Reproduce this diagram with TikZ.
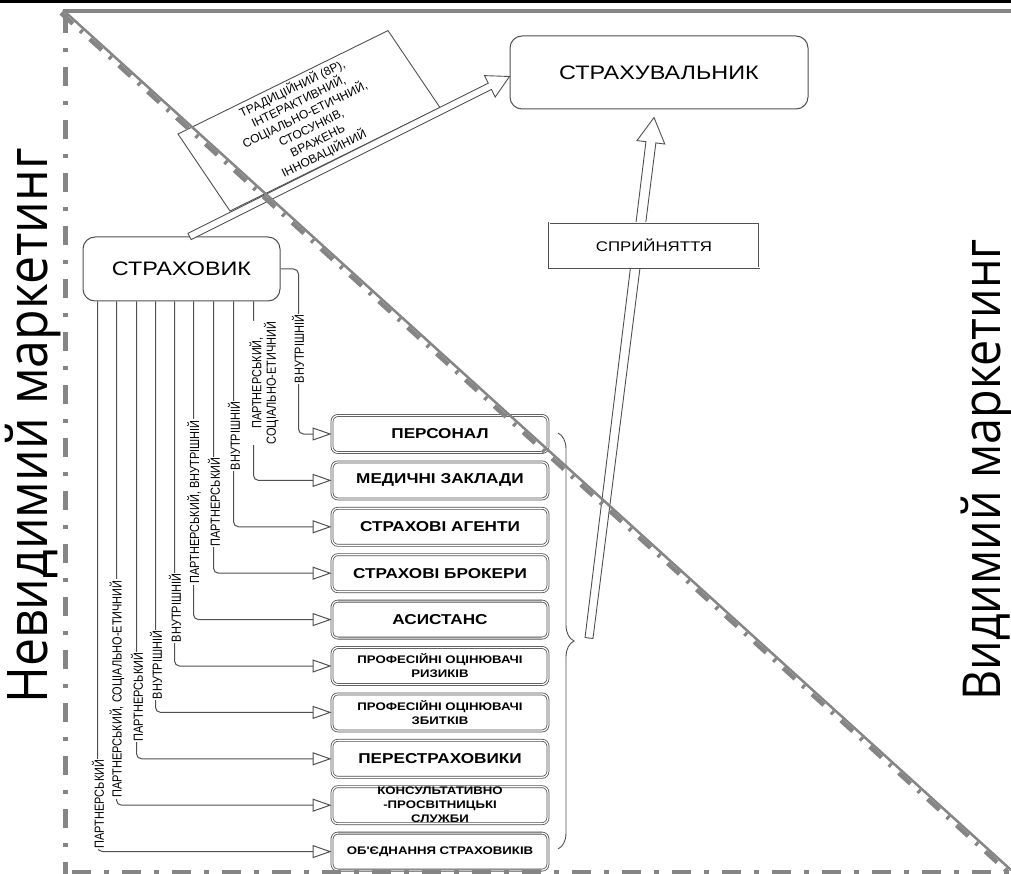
\documentclass[tikz,border=0pt]{standalone}
\usepackage{fontspec}
\setmainfont{Liberation Sans}
\newfontfamily\wfont[FakeStretch=1.2]{Liberation Sans}
\newfontfamily\vfont[FakeStretch=0.8333]{Liberation Sans}
\newfontfamily\sidefont[FakeStretch=0.893]{Open Sans}
\usetikzlibrary{arrows.meta,calc,decorations.pathreplacing}
\definecolor{ln}{HTML}{505050}
\definecolor{fr}{HTML}{858585}
\begin{document}
\begin{tikzpicture}[x=1pt,y=-1pt,
  conn/.style={draw=ln, line width=1pt, rounded corners=5pt, -{Triangle[open,length=19pt,width=13pt]}},
  lbl/.style={rotate=90, fill=white, inner sep=1pt, align=center, font=\vfont\fontsize{13.2}{11}\selectfont},
  obox/.style={draw=ln, line width=0.8pt, double=white, double distance=1.2pt, rounded corners=6pt,
     minimum width=216pt, minimum height=37pt, inner sep=0pt, align=center, fill=white,
     font=\wfont\bfseries\fontsize{14.3}{17}\selectfont},
  sbox/.style={obox, font=\wfont\bfseries\fontsize{11}{14}\selectfont},
  rbox/.style={draw=ln, line width=1pt, rounded corners=12pt, fill=white, inner sep=0pt,
     font=\wfont\fontsize{19.5}{22}\selectfont},
  hollow/.style={draw=ln, line width=0.9pt, fill=white, line join=miter},
  side/.style={rotate=90, inner sep=0pt, anchor=base}
]
\useasboundingbox (0,0) rectangle (1011,874);

% main nodes
\node[rbox, minimum width=197pt, minimum height=64pt] (s) at (181.5,269) {СТРАХОВИК};
\node[rbox, minimum width=298pt, minimum height=73pt] (t) at (659,72.5) {СТРАХУВАЛЬНИК};

\node[obox] (b1) at (440,434) {ПЕРСОНАЛ};
\node[obox] (b2) at (440,480.4) {МЕДИЧНІ ЗАКЛАДИ};
\node[obox] (b3) at (440,526.8) {СТРАХОВІ АГЕНТИ};
\node[obox] (b4) at (440,573.2) {СТРАХОВІ БРОКЕРИ};
\node[obox] (b5) at (440,619.6) {АСИСТАНС};
\node[sbox] (b6) at (440,666) {ПРОФЕСІЙНІ ОЦІНЮВАЧІ\\РИЗИКІВ};
\node[sbox] (b7) at (440,712.4) {ПРОФЕСІЙНІ ОЦІНЮВАЧІ\\ЗБИТКІВ};
\node[obox] (b8) at (440,758.8) {ПЕРЕСТРАХОВИКИ};
\node[sbox] (b9) at (440,805.2) {КОНСУЛЬТАТИВНО\\-ПРОСВІТНИЦЬКІ\\СЛУЖБИ};
\node[sbox] (b10) at (440,851.6) {ОБ'ЄДНАННЯ СТРАХОВИКІВ};

% connectors
\draw[conn] (s.east) -- ++(18,0) |- (b1.west);
\draw[conn] ([xshift=171pt]s.south west) |- (b2.west);
\draw[conn] ([xshift=151pt]s.south west) |- (b3.west);
\draw[conn] ([xshift=131pt]s.south west) |- (b4.west);
\draw[conn] ([xshift=111pt]s.south west) |- (b5.west);
\draw[conn] ([xshift=92pt]s.south west) |- (b6.west);
\draw[conn] ([xshift=73pt]s.south west) |- (b7.west);
\draw[conn] ([xshift=54pt]s.south west) |- (b8.west);
\draw[conn] ([xshift=34pt]s.south west) |- (b9.west);
\draw[conn] ([xshift=15pt]s.south west) |- (b10.west);

% connector labels
\node[lbl] (l1) at (298,349) {ВНУТРІШНІЙ};
\node[lbl] (l2) at (264,383) {ПАРТНЕРСЬКИЙ,\\СОЦІАЛЬНО-ЕТИЧНИЙ};
\node[lbl] (l3) at (234,436) {ВНУТРІШНІЙ};
\node[lbl] (l4) at (214,502) {ПАРТНЕРСЬКИЙ};
\node[lbl] (l5) at (194,502) {ПАРТНЕРСЬКИЙ, ВНУТРІШНІЙ};
\node[lbl] (l6) at (175,608) {ВНУТРІШНІЙ};
\node[lbl] (l7) at (156,665) {ВНУТРІШНІЙ};
\node[lbl] (l8) at (137,697) {ПАРТНЕРСЬКИЙ};
\node[lbl] (l9) at (117,689) {ПАРТНЕРСЬКИЙ, СОЦІАЛЬНО-ЕТИЧНИЙ};
\node[lbl] (l10) at (98,804) {ПАРТНЕРСЬКИЙ};

% brace
\draw[draw=ln, line width=0.9pt, decorate, decoration={brace, amplitude=16pt}] (558,433) -- (558,849);
\coordinate (bt) at (589,638);

% vertical hollow arrow to client
\coordinate (v2) at ([xshift=-5pt,yshift=-8pt]t.south);
\path ($(v2)!25pt!(bt)$) coordinate (vh);
\draw[hollow] ($(bt)!4pt!90:(v2)$) -- ($(vh)!5pt!-90:(bt)$) -- ($(vh)!14pt!-90:(bt)$) -- (v2)
  -- ($(vh)!14pt!90:(bt)$) -- ($(vh)!5pt!90:(bt)$) -- ($(bt)!4pt!-90:(v2)$) -- cycle;

\node[draw=ln, line width=0.8pt, double=white, double distance=1pt, fill=white, minimum width=210pt,
  minimum height=45pt, inner sep=0pt, font=\wfont\fontsize{14}{16}\selectfont] (p) at (654,245.5) {СПРИЙНЯТТЯ};

% top hollow arrow with tilted label box
\coordinate (a1) at ([xshift=107pt]s.north west);
\coordinate (a2) at ([yshift=-4pt]t.west);
\path ($(a2)!22pt!(a1)$) coordinate (ah);
\draw[hollow] (230,211) -- (440,107.6) -- ++(-52,-77) -- (178,134) -- cycle;
\draw[hollow] ($(a1)!3.5pt!90:(a2)$) -- ($(ah)!3.5pt!-90:(a1)$) -- ($(ah)!12pt!-90:(a1)$) -- (a2)
  -- ($(ah)!12pt!90:(a1)$) -- ($(ah)!3.5pt!90:(a1)$) -- ($(a1)!3.5pt!-90:(a2)$) -- cycle;
\node[rotate=26, align=center, inner sep=0pt, font=\fontsize{12}{14.5}\selectfont] (m) at (308,121)
  {ТРАДИЦІЙНИЙ (8Р),\\ІНТЕРАКТИВНИЙ,\\СОЦІАЛЬНО-ЕТИЧНИЙ,\\СТОСУНКІВ,\\ВРАЖЕНЬ\\ІННОВАЦІЙНИЙ};

% side texts
\node[side, font=\sidefont\fontsize{56}{60}\selectfont] (inv) at (47,426) {Невидимий маркетинг};
\node[side, font=\sidefont\fontsize{52.3}{56}\selectfont] (vis) at (1000,470) {Видимий маркетинг};

% frame lines
\fill[black] (0,0) rectangle (1011,3);
\draw[fr, line width=4pt] (63,11) -- (1011,11);
\draw[fr, line width=5pt, dash pattern=on 19pt off 15pt on 4pt off 15pt] (65,14) -- (65,874);
\draw[fr, line width=5pt, dash pattern=on 19pt off 13pt on 5pt off 13pt] (72,872) -- (1011,872);
\draw[fr, line width=2.5pt] (63,10) -- (1011,870);
\draw[fr, line width=4.5pt, dash pattern=on 16pt off 10pt on 3pt off 10pt] (61,13) -- (1009,873);
\end{tikzpicture}
\end{document}
